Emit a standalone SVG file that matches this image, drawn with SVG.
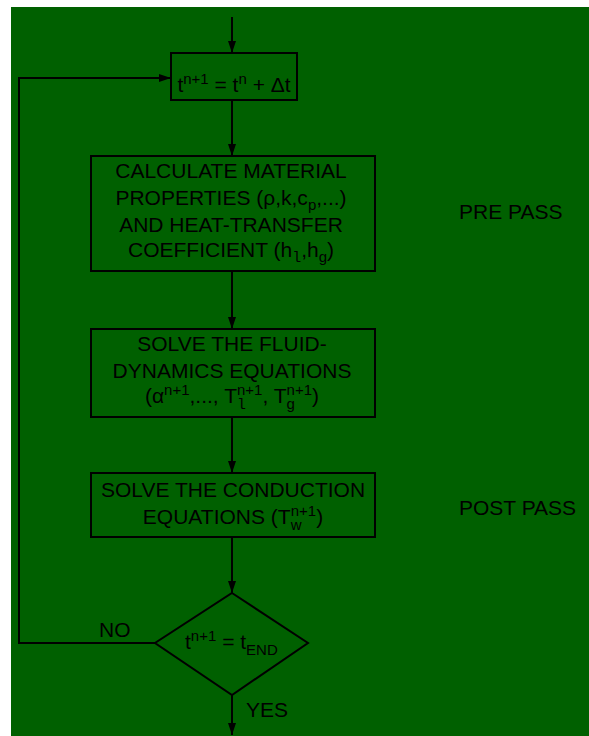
<svg xmlns="http://www.w3.org/2000/svg" width="589" height="736" viewBox="0 0 589 736">
<style>
text{font-family:"Liberation Sans",Arial,sans-serif;font-size:21px;fill:#000}
.s{font-size:15px}
.m{font-family:"Liberation Mono","DejaVu Sans Mono",monospace;font-size:15px}
.box{fill:#006000;stroke:#000;stroke-width:2}
.c{fill:none;stroke:#000;stroke-width:2}
</style>
<defs>
<marker id="ah" markerUnits="userSpaceOnUse" markerWidth="12" markerHeight="8" refX="12" refY="4" orient="auto">
<path d="M0,0 L12,4 L0,8 z" fill="#000"/>
</marker>
</defs>
<rect x="11" y="7" width="578" height="729" fill="#006000"/>
<g id="connectors">
<path class="c" d="M232,17 L232,53" marker-end="url(#ah)"/>
<path class="c" d="M232,100 L232,156" marker-end="url(#ah)"/>
<path class="c" d="M232,271 L232,329" marker-end="url(#ah)"/>
<path class="c" d="M232,417 L232,473" marker-end="url(#ah)"/>
<path class="c" d="M232,537 L232,593" marker-end="url(#ah)"/>
<path class="c" d="M232,695 L232,735" marker-end="url(#ah)"/>
<path class="c" d="M155,643 L19,643 L19,78 L171,78" marker-end="url(#ah)"/>
<text x="99" y="637">NO</text>
<text x="246" y="717">YES</text>
</g>
<g id="step">
<rect class="box" x="171" y="53" width="126" height="47"/>
<text x="234" y="92" text-anchor="middle">t<tspan class="s" dy="-8">n+1</tspan><tspan dy="8"> = t</tspan><tspan class="s" dy="-8">n</tspan><tspan dy="8"> + Δt</tspan></text>
</g>
<g id="props">
<rect class="box" x="91" y="156" width="284" height="115"/>
<text x="231" y="178" text-anchor="middle">CALCULATE MATERIAL</text>
<text x="231" y="205" text-anchor="middle">PROPERTIES (ρ,k,c<tspan class="s" dy="5">p</tspan><tspan dy="-5">,...)</tspan></text>
<text x="231" y="232" text-anchor="middle">AND HEAT-TRANSFER</text>
<text x="231" y="257" text-anchor="middle">COEFFICIENT (h<tspan class="m" dy="5">l</tspan><tspan dy="-5">,h</tspan><tspan class="s" dy="5">g</tspan><tspan dy="-5">)</tspan></text>
</g>
<g id="fluid">
<rect class="box" x="91" y="329" width="284" height="88"/>
<text x="232" y="351" text-anchor="middle">SOLVE THE FLUID-</text>
<text x="232" y="378" text-anchor="middle">DYNAMICS EQUATIONS</text>
<text x="232" y="403" text-anchor="middle">(α<tspan class="s" dy="-8">n+1</tspan><tspan dy="8">,..., T</tspan><tspan class="m" dy="6">l</tspan><tspan class="s" dx="-9" dy="-14">n+1</tspan><tspan dy="8">, T</tspan><tspan class="s" dy="6">g</tspan><tspan class="s" dx="-8.3" dy="-14">n+1</tspan><tspan dy="8">)</tspan></text>
</g>
<g id="conduction">
<rect class="box" x="91" y="473" width="284" height="64"/>
<text x="233" y="497" text-anchor="middle">SOLVE THE CONDUCTION</text>
<text x="233" y="524" text-anchor="middle">EQUATIONS (T<tspan class="s" dy="6">w</tspan><tspan class="s" dx="-10.8" dy="-14">n+1</tspan><tspan dy="8">)</tspan></text>
</g>
<g id="decision">
<polygon class="box" points="232,593 308,643 232,695 155,643"/>
<text x="185" y="649">t<tspan class="s" dy="-8">n+1</tspan><tspan dy="8"> = t</tspan><tspan class="s" dy="6">END</tspan></text>
</g>
<g id="labels">
<text x="459" y="219">PRE PASS</text>
<text x="459" y="515">POST PASS</text>
</g>
</svg>
